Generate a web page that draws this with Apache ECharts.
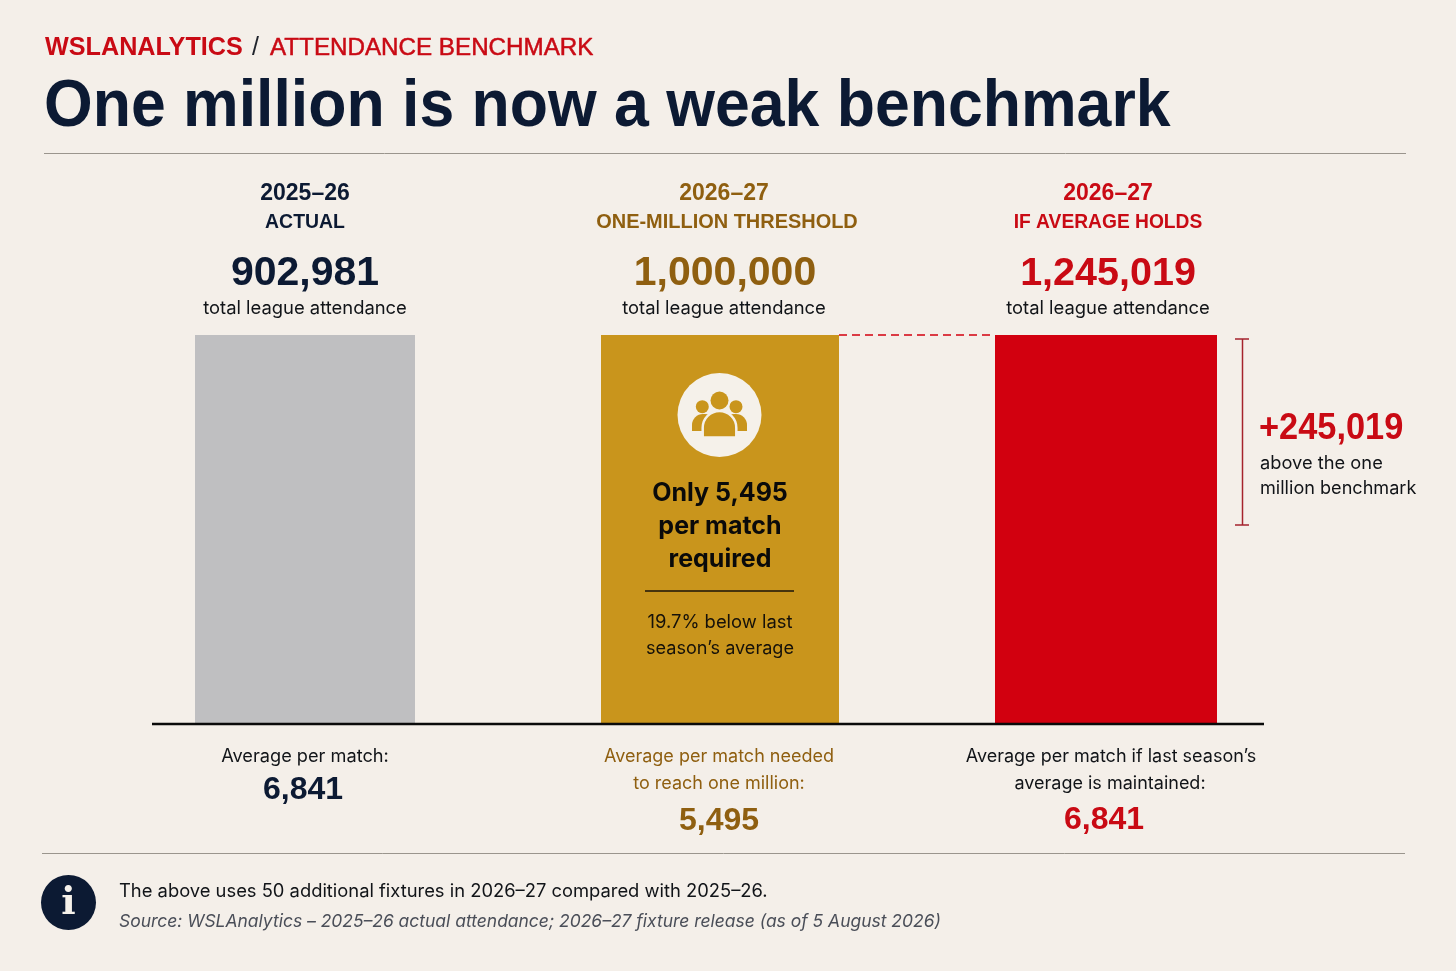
<!DOCTYPE html>
<html><head><meta charset="utf-8">
<style>html,body{margin:0;padding:0;background:#f4efe9}#c{width:1456px;height:971px}</style>
<script src="https://cdn.jsdelivr.net/npm/echarts@6/dist/echarts.min.js"></script>
</head><body><div id="c"></div>
<script>
const seasons = ['2025–26','2026–27','2026–27'];
const scenarios = ['ACTUAL','ONE-MILLION THRESHOLD','IF AVERAGE HOLDS'];
const totals = [902981,1000000,1245019];
const perMatch = [6841,5495,6841];
const gap = 245019;
const fmt = n => n.toLocaleString('en-US');

const NAVY='#0c1a33', GOLD='#c9951c', BROWN='#8f5f10', RED='#d2000f', TRED='#c90a14', GREY='#bfbfc1', INK='#111418', PAPER='#f5f1ea';
const SANS='"Liberation Sans",Arial,sans-serif', BODY='Inter,"Noto Sans",sans-serif';

function T(text,x,y,size,fill,o){o=o||{};
  const el={type:'text',z:20,silent:true,x,y,style:{text,fill,
  font:(o.italic?'italic ':'')+(o.weight||400)+' '+size+'px '+(o.family||BODY),
  textAlign:o.align||'center',textVerticalAlign:'middle'}};
  if(o.sx){el.scaleX=o.sx;}
  if(o.stroke){el.style.stroke=fill;el.style.lineWidth=o.stroke;}
  return el;}
function L(x1,y1,x2,y2,stroke,w,dash){return {type:'line',z:15,silent:true,shape:{x1,y1,x2,y2},style:{stroke,lineWidth:w,lineDash:dash||null}};}
function C(cx,cy,r,fill,z){return {type:'circle',z:z||17,silent:true,shape:{cx,cy,r},style:{fill}};}
function R(x,y,width,height,r,fill,stroke){return {type:'rect',z:16,silent:true,shape:{x,y,width,height,r},style:{fill,stroke:stroke||null,lineWidth:stroke?2.5:0}};}

const panels=[{left:195,width:220,color:GREY},{left:601,width:238,color:GOLD},{left:995,width:222,color:RED}];
const B={family:SANS,weight:700};
const graphics=[
  T('WSLANALYTICS',45,48.5,25.2,TRED,{family:SANS,weight:700,align:'left'}),
  T('/',252,48.5,25,'#20242c',{family:SANS,align:'left'}),
  T('ATTENDANCE BENCHMARK',270,48.5,24.2,TRED,{family:SANS,align:'left',stroke:0.5}),
  T('One million is now a weak benchmark',44,108,66,NAVY,{family:SANS,weight:700,align:'left',sx:0.948}),
  L(44,153.5,1406,153.5,'#9a958d',1),
  L(42,853.5,1405,853.5,'#9a958d',1),
  // column headers
  T(seasons[0],305,194,23,NAVY,B),
  T(scenarios[0],305,222,21,NAVY,{family:SANS,weight:700,sx:0.925}),
  T(fmt(totals[0]),305,274,41,NAVY,B),
  T('total league attendance',305,308.5,18.4,INK),
  T(seasons[1],724,194,23,BROWN,B),
  T(scenarios[1],727,222,21,BROWN,{family:SANS,weight:700,sx:0.95}),
  T(fmt(totals[1]),725,274,41,BROWN,B),
  T('total league attendance',724,308.5,18.4,INK),
  T(seasons[2],1108,194,23,TRED,B),
  T(scenarios[2],1108,222,21,TRED,{family:SANS,weight:700,sx:0.915}),
  T(fmt(totals[2]),1108,274,39.5,TRED,B),
  T('total league attendance',1108,308.5,18.4,INK),
  // baseline and connector
  L(152,724,1264,724,'#0a0a0a',2.5),
  L(839,335,995,335,RED,1.5,[8,5]),
  // bracket
  L(1242.5,339,1242.5,525,'#a5222c',1.5),
  L(1235,339,1249,339,'#a5222c',1.5),
  L(1235,525,1249,525,'#a5222c',1.5),
  T('+'+fmt(gap),1259,429,36,TRED,{family:SANS,weight:700,align:'left',sx:0.955}),
  T('above the one',1260,463.5,18.3,INK,{align:'left'}),
  T('million benchmark',1260,488.5,18.1,INK,{align:'left'}),
  // icon
  C(719.5,415,42,PAPER,15),
  R(692,414,24,17,[11,11,0,0],GOLD),
  R(723,414,24,17,[11,11,0,0],GOLD),
  Object.assign(R(702.7,411,33.6,26.5,[16.8,16.8,0,0],GOLD,PAPER),{z:17}),
  C(719.5,400.5,9,GOLD),
  C(702.3,406.7,6.5,GOLD),
  C(736,406.7,6.5,GOLD),
  // gold bar text
  T('Only '+fmt(perMatch[1]),720,493,25,'#0a0a0a',{weight:700}),
  T('per match',720,526,25,'#0a0a0a',{weight:700}),
  T('required',720,559,25,'#0a0a0a',{weight:700}),
  L(645,591,794,591,'#1a1408',1.5),
  T('19.7% below last',720,622,18.4,'#15110a'),
  T('season’s average',720,649,18.1,'#15110a'),
  // below baseline
  T('Average per match:',305,756.5,18.2,INK),
  T(fmt(perMatch[0]),303,790.5,32,NAVY,B),
  T('Average per match needed',719,756.5,18,BROWN),
  T('to reach one million:',719,783.5,18,BROWN),
  T(fmt(perMatch[1]),719,821.5,32,BROWN,B),
  T('Average per match if last season’s',1111,756.5,18,INK),
  T('average is maintained:',1110,783.5,18,INK),
  T(fmt(perMatch[2]),1104,820.5,32,TRED,B),
  // footer
  C(68.5,902.5,27.5,NAVY,15),
  T('i',68.5,904.5,38,PAPER,{family:'"DejaVu Serif",serif',weight:700}),
  T('The above uses 50 additional fixtures in 2026–27 compared with 2025–26.',119,891,18.36,INK,{align:'left'}),
  T('Source: WSLAnalytics – 2025–26 actual attendance; 2026–27 fixture release (as of 5 August 2026)',119,922,17.47,'#4a4e58',{align:'left',italic:true})
];

const chart=echarts.init(document.getElementById('c'));
chart.setOption({
  animation:false,
  backgroundColor:'#f4efe9',
  // one panel per column: the reference draws all three bars to the same height
  grid:panels.map(p=>({left:p.left,width:p.width,top:335,height:389})),
  xAxis:panels.map((p,i)=>({type:'category',gridIndex:i,data:[scenarios[i]],show:false})),
  yAxis:panels.map((p,i)=>({type:'value',gridIndex:i,min:0,max:totals[i],show:false})),
  series:panels.map((p,i)=>({type:'bar',xAxisIndex:i,yAxisIndex:i,barWidth:'100%',data:[totals[i]],
    itemStyle:{color:p.color},silent:true})),
  graphic:{elements:graphics}
});
</script></body></html>
